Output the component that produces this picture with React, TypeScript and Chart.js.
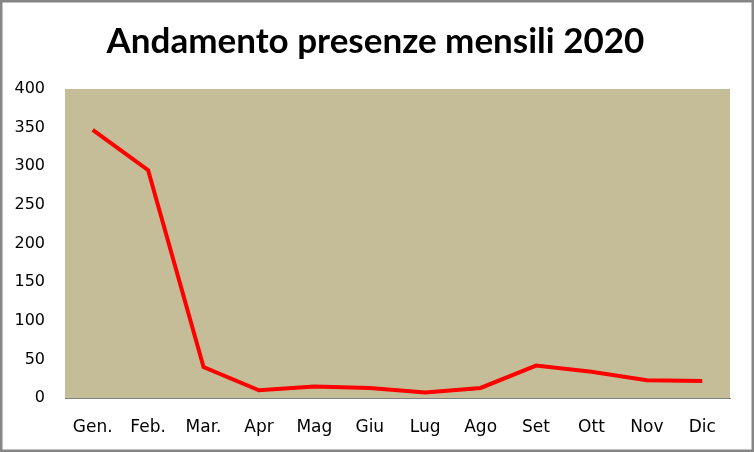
import React, { useEffect, useRef } from "react";
import { Chart, registerables } from "chart.js";

Chart.register(...registerables);

const months = ["Gen.", "Feb.", "Mar.", "Apr", "Mag", "Giu", "Lug", "Ago", "Set", "Ott", "Nov", "Dic"];
const presenze = [347, 295, 40, 10, 15, 13, 7, 13, 42, 34, 23, 22];
const titleText = "Andamento presenze mensili 2020";
const yMin = 0;
const yMax = 400;
const yStep = 50;

const bgPlugin = {
  id: "bgPlugin",
  beforeDraw(chart: any) {
    const { ctx, chartArea, width, height } = chart;
    ctx.save();
    ctx.fillStyle = "#ffffff";
    ctx.fillRect(0, 0, width, height);
    ctx.fillStyle = "#C4BD97";
    ctx.fillRect(chartArea.left, chartArea.top, chartArea.right - chartArea.left, chartArea.bottom - chartArea.top);
    ctx.strokeStyle = "#868686";
    ctx.lineWidth = 2.5;
    ctx.strokeRect(1.25, 1.25, width - 2.5, height - 2.5);
    ctx.restore();
  },
};

const titlePlugin = {
  id: "titleText",
  afterDraw(chart: any) {
    const { ctx, width } = chart;
    ctx.save();
    ctx.fillStyle = "#000000";
    ctx.font = "bold 35px Lato";
    ctx.textAlign = "center";
    ctx.textBaseline = "alphabetic";
    ctx.fillText(titleText, width / 2 - 1.5, 53);
    ctx.restore();
  },
};

export default function App() {
  const ref = useRef<HTMLCanvasElement>(null);
  useEffect(() => {
    if (!ref.current) return;
    const chart = new Chart(ref.current, {
      type: "line",
      data: {
        labels: months,
        datasets: [
          {
            data: presenze,
            borderColor: "#FF0000",
            borderWidth: 4,
            pointRadius: 0,
            tension: 0,
          },
        ],
      },
      options: {
        responsive: false,
        animation: false,
        layout: { padding: { left: 10, right: 24, top: 89, bottom: 14 } },
        plugins: {
          legend: { display: false },
          tooltip: { enabled: false },
          title: { display: false },
        },
        scales: {
          x: {
            offset: true,
            grid: { display: false, drawTicks: false, offset: true },
            border: { display: true, color: "#808080", width: 1 },
            ticks: {
              color: "#000000",
              font: { family: "DejaVu Sans", size: 17 },
              padding: 19,
              maxRotation: 0,
              autoSkip: false,
            },
            afterFit(scale: any) {
              scale.height = 40;
            },
          },
          y: {
            min: yMin,
            max: yMax,
            grid: { display: false, drawTicks: false },
            border: { display: false },
            ticks: {
              stepSize: yStep,
              color: "#000000",
              font: { family: "DejaVu Sans", size: 16 },
              padding: 20,
            },
            afterFit(scale: any) {
              scale.width = 55;
            },
          },
        },
      },
      plugins: [bgPlugin, titlePlugin],
    });
    return () => chart.destroy();
  }, []);
  return (
    <div style={{ position: "fixed", left: 0, top: 0, width: 754, height: 452 }}>
      <canvas ref={ref} width={754} height={452} style={{ width: 754, height: 452, display: "block" }} />
    </div>
  );
}
